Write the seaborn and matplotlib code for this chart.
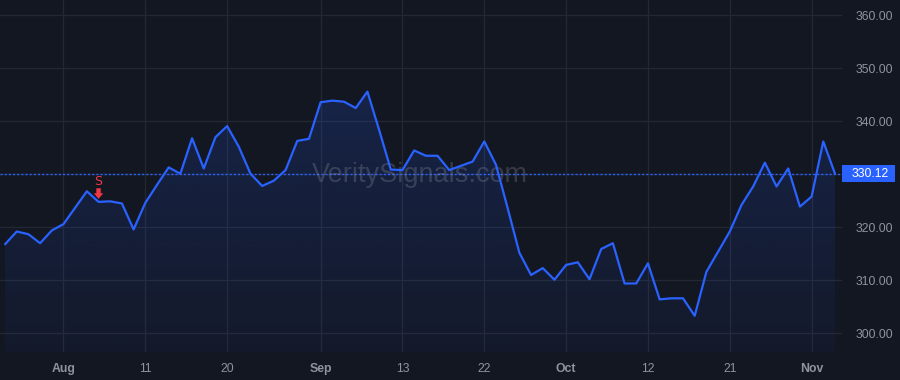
import numpy as np
import pandas as pd
import matplotlib
matplotlib.use("Agg")
import matplotlib.pyplot as plt
import matplotlib.transforms as mtransforms
from matplotlib.patches import Rectangle
import seaborn as sns

# ---- data ----
prices = [316.8, 319.2, 318.7, 317.0, 319.4, 320.6, 323.7, 326.8, 324.8, 324.9,
          324.5, 319.6, 324.6, 328.0, 331.3, 330.1, 336.8, 331.1, 337.0, 339.1,
          335.2, 330.1, 327.8, 328.8, 330.8, 336.3, 336.7, 343.6, 343.9, 343.7,
          342.5, 345.6, 338.4, 330.9, 330.8, 334.5, 333.5, 333.5, 330.8, 331.6,
          332.4, 336.2, 331.8, 323.6, 315.2, 311.0, 312.3, 310.1, 312.9, 313.4,
          310.2, 315.9, 317.0, 309.4, 309.4, 313.2, 306.4, 306.6, 306.6, 303.3,
          311.6, 315.4, 319.2, 324.2, 327.7, 332.2, 327.7, 331.1, 323.9, 325.8,
          336.2, 330.12]
tick_index = [5, 12, 19, 27, 34, 41, 48, 55, 62, 69]
tick_labels = ["Aug", "11", "20", "Sep", "13", "22", "Oct", "12", "21", "Nov"]
month_labels = ["Aug", "Sep", "Oct", "Nov"]
y_ticks = [300, 310, 320, 330, 340, 350, 360]
signal_index = 8
signal_text = "S"
last_price = prices[-1]
watermark = "VeritySignals.com"

df = pd.DataFrame({"idx": np.arange(len(prices)), "price": prices})

BG = "#131722"
GRID = "#242834"
TXT = "#8f939e"
BLUE = "#2962ff"
RED = "#f23645"

sns.set_style("dark", rc={"axes.facecolor": BG, "figure.facecolor": BG,
                          "grid.color": GRID, "axes.edgecolor": BG})
plt.rcParams["font.family"] = ["Liberation Sans", "DejaVu Sans"]

fig = plt.figure(figsize=(9, 3.8), dpi=100)
ax = fig.add_axes([0, 28 / 380, 842 / 900, 352 / 380])
ax.set_facecolor(BG)

ymin, ymax = 296.47, 362.89
xmin, xmax = -0.43, 71.6
ax.set_xlim(xmin, xmax)
ax.set_ylim(ymin, ymax)

# gradient fill under the line
poly = ax.fill_between(df["idx"], df["price"], ymin, color="none", lw=0)
grad = np.zeros((256, 1, 4))
grad[:, 0, 0] = 41 / 255
grad[:, 0, 1] = 98 / 255
grad[:, 0, 2] = 1.0
grad[:, 0, 3] = np.linspace(0.22, 0.04, 256)
im = ax.imshow(grad, extent=[0, len(prices) - 1, ymin, ymax], aspect="auto",
               origin="upper", zorder=1, interpolation="bicubic")
path = poly.get_paths()[0]
im.set_clip_path(path, transform=ax.transData)

sns.lineplot(data=df, x="idx", y="price", ax=ax, color=BLUE, lw=1.6, zorder=3)

# grid
ax.set_yticks(y_ticks)
# the 330 label is hidden behind the last-price tag in the reference
ax.set_yticklabels(["" if abs(v - last_price) < 3 else f"{v:.2f}" for v in y_ticks])
ax.set_xticks(tick_index)
ax.set_xticklabels(tick_labels)
ax.grid(True, color=GRID, lw=0.9)
ax.set_axisbelow(True)
ax.yaxis.tick_right()
ax.tick_params(axis="y", length=0, pad=10, labelsize=8.8, labelcolor=TXT)
ax.tick_params(axis="x", length=0, pad=8, labelsize=8.8, labelcolor=TXT)
for lbl in ax.get_xticklabels():
    if lbl.get_text() in month_labels:
        lbl.set_fontweight("bold")
for lbl in ax.get_yticklabels():
    lbl.set_horizontalalignment("left")
ax.set_xlabel("")
ax.set_ylabel("")
for s in ax.spines.values():
    s.set_visible(False)

# last price line and label
ax.axhline(last_price, color=BLUE, lw=1.0, ls=(0, (1.5, 1.5)), zorder=2)
bt = mtransforms.blended_transform_factory(fig.transFigure, ax.transData)
ax.add_patch(Rectangle((842 / 900, last_price - 1.6), 53 / 900, 3.2,
                       transform=bt, facecolor=BLUE, edgecolor="none",
                       clip_on=False, zorder=5))
ax.text(852 / 900, last_price, f"{last_price:.2f}", transform=bt, color="white",
        fontsize=8.8, ha="left", va="center", zorder=6, clip_on=False)

# watermark
ax.text(35.5, 328.6, watermark, color="#9598a1", alpha=0.28, fontsize=19.5,
        ha="center", va="baseline", zorder=2)

# signal marker
sx, sy = signal_index, prices[signal_index]
tip = mtransforms.offset_copy(ax.transData, fig=fig, y=2.2, units="points")
tail = mtransforms.offset_copy(ax.transData, fig=fig, y=9.8, units="points")
ax.annotate("", xy=(sx, sy), xycoords=tip, xytext=(sx, sy), textcoords=tail,
            arrowprops=dict(facecolor=RED, edgecolor="none", width=3.2,
                            headwidth=6.8, headlength=4.0, shrink=0), zorder=6)
stxt = mtransforms.offset_copy(ax.transData, fig=fig, y=15.0, units="points")
ax.text(sx, sy, signal_text, transform=stxt, color=RED, fontsize=9,
        family=["DejaVu Sans"], ha="center", va="center", zorder=6)

fig.savefig("out.png", dpi=100, facecolor=BG)
